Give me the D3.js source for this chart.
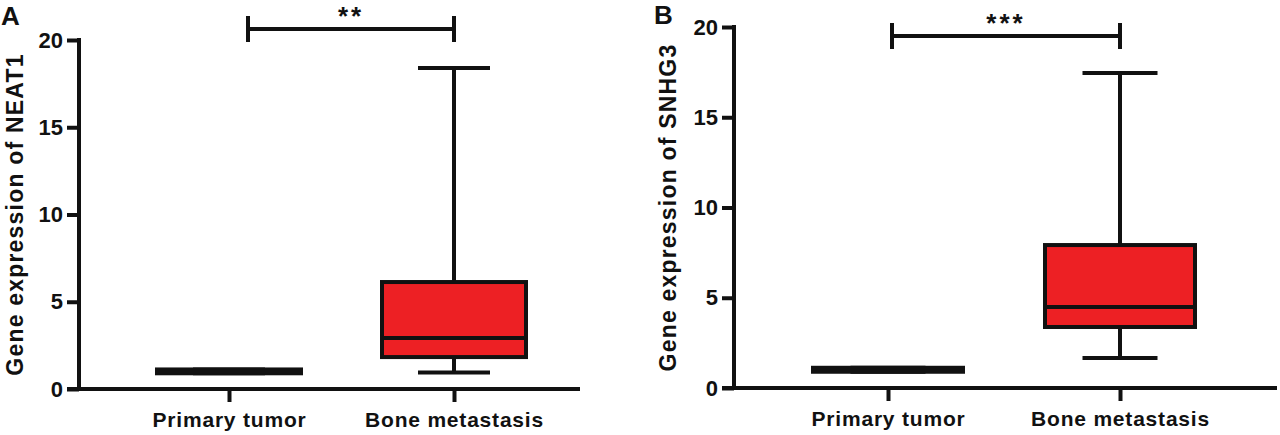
<!DOCTYPE html>
<html>
<head>
<meta charset="utf-8">
<script src="https://cdn.jsdelivr.net/npm/d3@7"></script>
<style>
  html, body { margin: 0; padding: 0; background: #fff; }
  svg { display: block; font-family: "Liberation Sans", Arial, sans-serif; }
</style>
</head>
<body>
<svg id="chart" width="1280" height="435"></svg>
<script>
// Groups on the x axis
const groups = ['Primary tumor', 'Bone metastasis'];

// Box stats per group: [min, q1, median, q3, max]
const neat1Box = [
    [0.9, 0.9, 1.0, 1.12, 1.12],
    [0.95, 1.83, 2.92, 6.13, 18.4]
];
const snhg3Box = [
    [0.9, 0.9, 1.0, 1.12, 1.12],
    [1.66, 3.38, 4.49, 7.92, 17.45]
];

// y axis ticks
const yTicks = [0, 5, 10, 15, 20];

// Significance brackets: [from group, to group, height, label]
const neat1Sig = ['Primary tumor', 'Bone metastasis', 20.63, '**'];
const snhg3Sig = ['Primary tumor', 'Bone metastasis', 19.5, '***'];

const RED = '#ed2024';
const INK = '#111';
const FONT = '"Liberation Sans", Arial, sans-serif';

const panels = [
    {
        letter: 'A', yLabel: 'Gene expression of NEAT1', box: neat1Box, sig: neat1Sig,
        axisX: 79, axisEnd: 580, yTop: 40, yZero: 389, centers: [229, 454],
        boxWidth: 144, bracketInset: 19, labelX: 15, letterX: 1, letterY: 25
    },
    {
        letter: 'B', yLabel: 'Gene expression of SNHG3', box: snhg3Box, sig: snhg3Sig,
        axisX: 734, axisEnd: 1277, yTop: 27, yZero: 388, centers: [888, 1120],
        boxWidth: 150, bracketInset: 4, labelX: 668, letterX: 654, letterY: 24
    }
];

const svg = d3.select('#chart');

panels.forEach(p => {
    const g = svg.append('g');

    const x = d3.scalePoint()
        .domain(groups)
        .range(p.centers);

    const y = d3.scaleLinear()
        .domain([0, 20])
        .range([p.yZero, p.yTop]);

    // Y axis
    const yAxis = g.append('g')
        .attr('transform', `translate(${p.axisX},0)`)
        .call(d3.axisLeft(y).tickValues(yTicks).tickSize(12).tickSizeOuter(0).tickPadding(4));
    yAxis.select('.domain').attr('stroke', INK).attr('stroke-width', 4)
        .attr('d', `M0,${y(20) - 2}V${y(0) + 2}`);
    yAxis.selectAll('.tick line').attr('stroke', INK).attr('stroke-width', 4);
    yAxis.selectAll('.tick text')
        .attr('fill', INK)
        .attr('font-size', '22px')
        .attr('font-weight', 'bold')
        .attr('font-family', FONT);

    // X axis
    const xAxis = g.append('g')
        .attr('transform', `translate(0,${p.yZero})`)
        .call(d3.axisBottom(x).tickSize(13).tickSizeOuter(0).tickPadding(10));
    xAxis.select('.domain').attr('stroke', INK).attr('stroke-width', 4)
        .attr('d', `M${p.axisX - 12},0H${p.axisEnd}`);
    xAxis.selectAll('.tick line').attr('stroke', INK).attr('stroke-width', 4);
    xAxis.selectAll('.tick text')
        .attr('fill', INK)
        .attr('font-size', '21px')
        .attr('font-weight', 'bold')
        .attr('letter-spacing', '0.8px')
        .attr('font-family', FONT);

    // Y axis title
    g.append('text')
        .attr('transform', `translate(${p.labelX},${(p.yZero + p.yTop) / 2}) rotate(-90)`)
        .attr('text-anchor', 'middle')
        .attr('dy', '0.35em')
        .attr('fill', INK)
        .attr('font-size', '23px')
        .attr('font-weight', 'bold')
        .attr('letter-spacing', '1.2px')
        .text(p.yLabel);

    // Panel letter
    g.append('text')
        .attr('x', p.letterX)
        .attr('y', p.letterY)
        .attr('fill', INK)
        .attr('font-size', '26px')
        .attr('font-weight', 'bold')
        .text(p.letter);

    // Boxes
    const boxes = g.selectAll('.box')
        .data(p.box.map((s, i) => ({ group: groups[i], s })))
        .join('g')
        .attr('class', 'box');

    // whiskers
    boxes.append('line')
        .attr('x1', d => x(d.group)).attr('x2', d => x(d.group))
        .attr('y1', d => y(d.s[4])).attr('y2', d => y(d.s[0]))
        .attr('stroke', INK).attr('stroke-width', 4);

    // whisker caps
    [0, 4].forEach(k => {
        boxes.append('line')
            .attr('x1', d => x(d.group) - p.boxWidth / 4)
            .attr('x2', d => x(d.group) + p.boxWidth / 4)
            .attr('y1', d => y(d.s[k])).attr('y2', d => y(d.s[k]))
            .attr('stroke', INK).attr('stroke-width', 4);
    });

    // box body
    boxes.append('rect')
        .attr('x', d => x(d.group) - p.boxWidth / 2)
        .attr('width', p.boxWidth)
        .attr('y', d => y(d.s[3]))
        .attr('height', d => y(d.s[1]) - y(d.s[3]))
        .attr('fill', RED)
        .attr('stroke', INK).attr('stroke-width', 4);

    // median
    boxes.append('line')
        .attr('x1', d => x(d.group) - p.boxWidth / 2)
        .attr('x2', d => x(d.group) + p.boxWidth / 2)
        .attr('y1', d => y(d.s[2])).attr('y2', d => y(d.s[2]))
        .attr('stroke', INK).attr('stroke-width', 4);

    // Significance bracket
    const [from, to, h, label] = p.sig;
    const bx1 = x(from) + p.bracketInset;
    const bx2 = x(to);
    const by = y(h);
    const sig = g.append('g').attr('stroke', INK).attr('stroke-width', 4);
    sig.append('line').attr('x1', bx1).attr('x2', bx2).attr('y1', by).attr('y2', by);
    sig.append('line').attr('x1', bx1).attr('x2', bx1).attr('y1', by - 13).attr('y2', by + 13);
    sig.append('line').attr('x1', bx2).attr('x2', bx2).attr('y1', by - 13).attr('y2', by + 13);

    g.append('text')
        .attr('x', (bx1 + bx2) / 2)
        .attr('y', by - 4)
        .attr('text-anchor', 'middle')
        .attr('fill', INK)
        .attr('font-size', '26px')
        .attr('font-weight', 'bold')
        .attr('letter-spacing', '3px')
        .text(label);
});
</script>
</body>
</html>
